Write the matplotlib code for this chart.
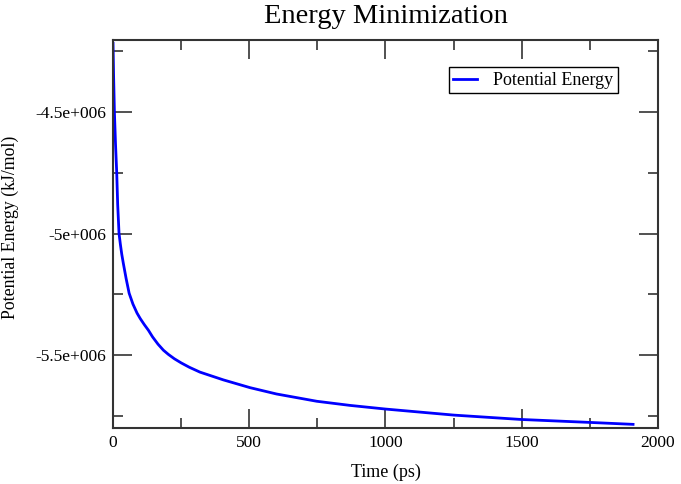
import matplotlib.pyplot as plt
from matplotlib.ticker import MultipleLocator, FuncFormatter

# values (time in ps, energy in kJ/mol)
time_ps = [0, 2, 5, 9, 13.5, 17, 22, 27, 32, 38, 48, 59, 73, 88, 100, 115,
           130, 145, 165, 185, 203, 225, 250, 280, 319, 405, 503, 600, 748,
           870, 1000, 1252, 1500, 1750, 1909]
energy = [-4.217e6, -4.35e6, -4.50e6, -4.63e6, -4.75e6, -4.88e6, -5.00e6,
          -5.045e6, -5.085e6, -5.124e6, -5.185e6, -5.245e6, -5.29e6,
          -5.327e6, -5.35e6, -5.375e6, -5.398e6, -5.425e6, -5.455e6,
          -5.48e6, -5.497e6, -5.515e6, -5.532e6, -5.55e6, -5.570e6,
          -5.602e6, -5.634e6, -5.66e6, -5.69e6, -5.707e6, -5.722e6,
          -5.747e6, -5.765e6, -5.777e6, -5.785e6]

plt.rcParams['font.family'] = 'Liberation Serif'

fig = plt.figure(figsize=(6.81, 4.84), dpi=100)
ax = fig.add_axes([0.166, 0.1157, 0.800, 0.8013])

ax.plot(time_ps, energy, color='#0000ff', lw=2, label='Potential Energy')

ax.set_xlim(0, 2000)
ax.set_ylim(-5.80e6, -4.204e6)
ax.xaxis.set_major_locator(MultipleLocator(500))
ax.xaxis.set_minor_locator(MultipleLocator(250))
ax.yaxis.set_major_locator(MultipleLocator(5e5))
ax.yaxis.set_minor_locator(MultipleLocator(2.5e5))


def sci_fmt(v, pos):
    m = v / 1e6
    s = ('%g' % m)
    return s + 'e+006'


ax.yaxis.set_major_formatter(FuncFormatter(sci_fmt))

ax.tick_params(which='both', direction='in', top=True, right=True,
               labelsize=12.5, color='#333333', width=1.2)
ax.tick_params(which='major', length=14, pad=5)
ax.tick_params(which='minor', length=7)
for sp in ax.spines.values():
    sp.set_linewidth(1.5)
    sp.set_color('#333333')

ax.set_title('Energy Minimization', fontsize=20.5, pad=12.5)
ax.set_xlabel('Time (ps)', fontsize=13, labelpad=9)
ax.set_ylabel('Potential Energy (kJ/mol)', fontsize=12.8)
ax.yaxis.set_label_coords(-0.172, 0.518)

leg = ax.legend(loc='upper right', bbox_to_anchor=(0.943, 0.953), fontsize=13,
                fancybox=False, framealpha=1, edgecolor='black',
                handlelength=1.3, borderpad=0.25, handletextpad=0.9)
leg.get_frame().set_linewidth(1.0)

fig.savefig('out.png', dpi=100)
